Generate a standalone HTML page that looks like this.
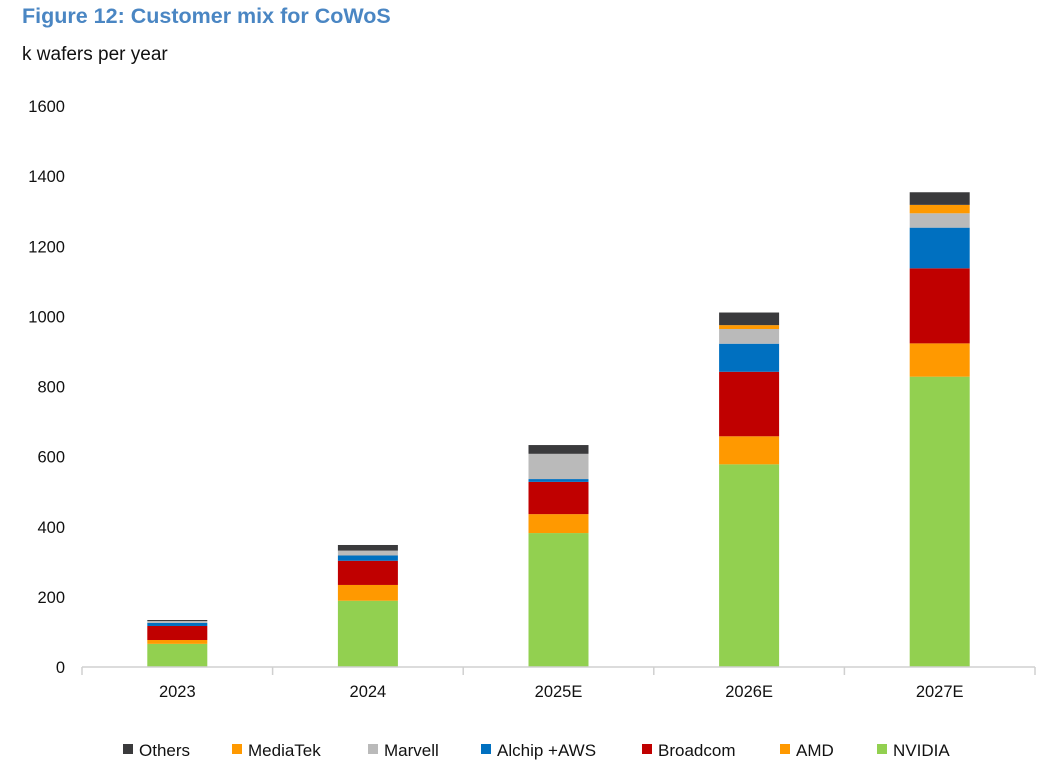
<!DOCTYPE html>
<html><head><meta charset="utf-8"><style>
body{margin:0;background:#fff;width:1047px;height:765px;overflow:hidden;font-family:"Liberation Sans",Arial,sans-serif}
</style></head><body>
<svg id="chart" width="1047" height="765" xmlns="http://www.w3.org/2000/svg">
<text x="22" y="23" font-size="21.5" font-weight="bold" fill="#4a86c3" font-family="Liberation Sans, sans-serif">Figure 12: Customer mix for CoWoS</text>
<text x="22" y="60" font-size="19" fill="#111" font-family="Liberation Sans, sans-serif">k wafers per year</text>
<g id="yticks"></g><g id="bars"></g><g id="xaxis"></g><g id="legend"></g>
</svg>
<script>
const categories=["2023","2024","2025E","2026E","2027E"];
const seriesNames=["NVIDIA","AMD","Broadcom","Alchip +AWS","Marvell","MediaTek","Others"];
const nvidia=[66,189,382,578,828];
const amd=[11,45,54,80,95];
const broadcom=[40,69,92,184,214];
const alchip=[9,15,8,80,116];
const marvell=[5,14,72,42,41];
const mediatek=[0,0,0,11,24];
const others=[3,16,25,36,36];
const yTicks=[0,200,400,600,800,1000,1200,1400,1600];
const legendOrder=["Others","MediaTek","Marvell","Alchip +AWS","Broadcom","AMD","NVIDIA"];
const series=[nvidia,amd,broadcom,alchip,marvell,mediatek,others];
const colors=["#92d050","#ff9900","#c00000","#0070c0","#bababa","#ff9900","#3a3a3c"];
const NS="http://www.w3.org/2000/svg";
const x0=82,x1=1035,y0=667,yTop=106;
const yS=v=>y0-(v/1600)*(y0-yTop);
const bw=(x1-x0)/categories.length;
const xC=i=>x0+bw*(i+0.5);
function mk(t,a,p){const e=document.createElementNS(NS,t);for(const k in a)e.setAttribute(k,a[k]);p.appendChild(e);return e;}
const yt=document.getElementById('yticks');
yTicks.forEach(v=>{const t=mk('text',{x:65,y:yS(v)+6,'text-anchor':'end','font-size':16.5,fill:'#111'},yt);


t.textContent=v;});
const bg=document.getElementById('bars');
categories.forEach((c,i)=>{let acc=0;series.forEach((s,j)=>{const v=s[i];if(v<=0)return;
const r=mk('rect',{x:xC(i)-30,y:yS(acc+v),width:60,height:yS(acc)-yS(acc+v),fill:colors[j]},bg);


acc+=v;});});
const xa=document.getElementById('xaxis');
const ln=mk('line',{x1:x0,x2:x1,y1:y0,y2:y0,stroke:'#d0d0d0','stroke-width':1.5},xa);


for(let i=0;i<=categories.length;i++){const tk=mk('line',{x1:x0+bw*i,x2:x0+bw*i,y1:y0,y2:y0+8,stroke:'#d0d0d0','stroke-width':1.5},xa);

}
categories.forEach((c,i)=>{const t=mk('text',{x:xC(i),y:697,'text-anchor':'middle','font-size':16.5,fill:'#111'},xa);


t.textContent=c;});
const lg=document.getElementById('legend');
const lx=[123,232,368,481,642,780,877];
legendOrder.forEach((n,k)=>{const j=seriesNames.indexOf(n);
const g=mk('g',{},lg);


mk('rect',{x:lx[k],y:744,width:10,height:10,fill:colors[j]},g);
const t=mk('text',{x:lx[k]+16,y:756,'font-size':17,fill:'#111'},g);t.textContent=n;});
</script>
</body></html>
